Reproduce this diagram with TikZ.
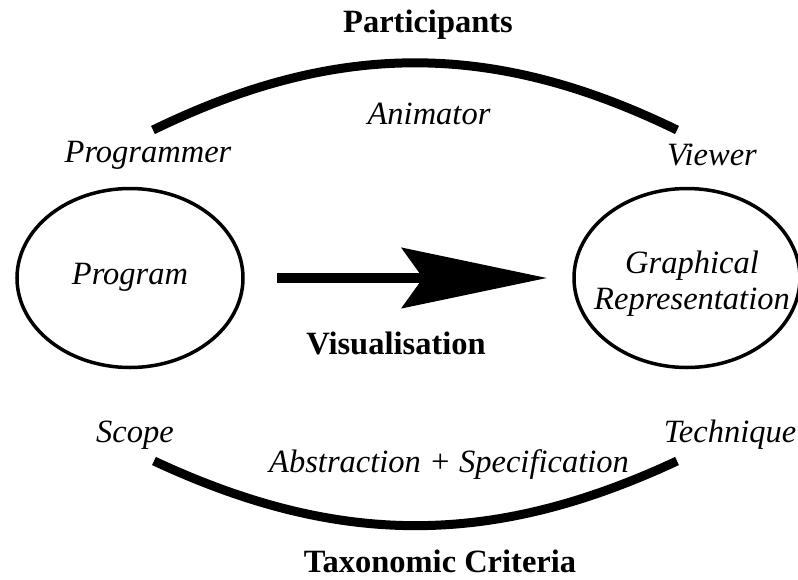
\documentclass[tikz,border=0pt]{standalone}
\usepackage{fontspec}
\setmainfont{Liberation Serif}
\usetikzlibrary{arrows.meta,shapes.geometric}

\begin{document}
\begin{tikzpicture}[x=1pt,y=-1pt,
  every node/.style={font=\fontsize{32.5}{36}\selectfont, inner sep=0pt},
  term/.style={font=\fontsize{32.5}{36}\selectfont\itshape, align=center},
  title/.style={font=\fontsize{32.5}{36}\selectfont\bfseries},
  blob/.style={draw, ellipse, line width=3.5pt, minimum width=226pt, minimum height=179pt},
  band/.style={line width=9pt},
  bigarrow/.style={-{Stealth[length=145pt,width=60pt,inset=21pt]}, line width=9.5pt}
]
\useasboundingbox (0,0) rectangle (798,579);
\node[title] (parts) at (428,25) {Participants};
\node[title] (vis) at (396,343) {Visualisation};
\node[title] (crit) at (440,561) {Taxonomic Criteria};
\node[term] (prgmr) at (148,155) {Programmer};
\node[term] (anim) at (429,114) {Animator};
\node[term] (view) at (712,155) {Viewer};
\node[term] (scope) at (135,435) {Scope};
\node[term] (tech) at (730,435) {Technique};
\node[term] (absp) at (449,465) {Abstraction + Specification};
\node[blob] (prog) at (130,278) {};
\node[term] (progtxt) at (130,277) {Program};
\node[blob] (graph) at (687,278) {};
\node[term] (graphtxt) at (692,284) {Graphical\\Representation};
\coordinate (topl) at (153,130);
\coordinate (topr) at (677,130);
\coordinate (botl) at (154,461);
\coordinate (botr) at (677,461);
\coordinate (vstart) at (277,278);
\coordinate (vend) at (547,278);
\draw[band] (topl) to[bend left=26] (topr);
\draw[band] (botl) to[bend right=25] (botr);
\draw[bigarrow] (vstart) -- (vend);
\end{tikzpicture}
\end{document}
